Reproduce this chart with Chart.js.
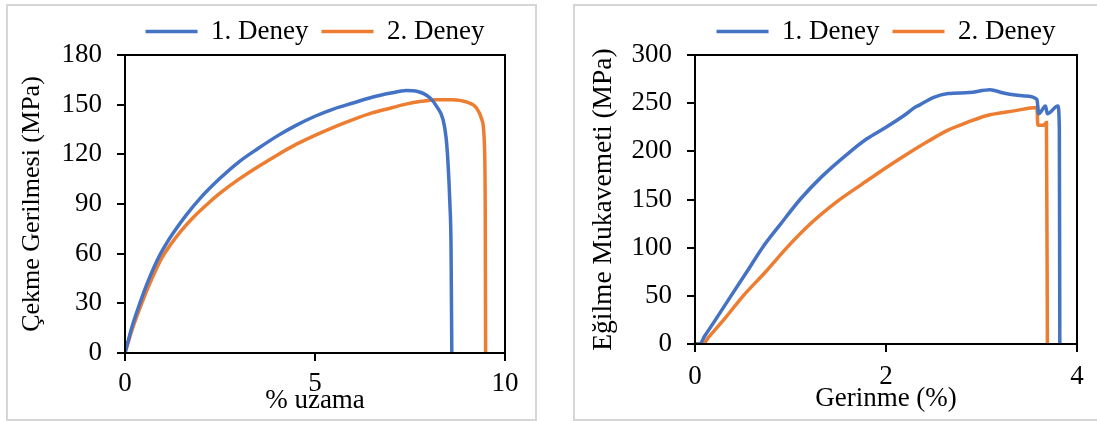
<!DOCTYPE html>
<html>
<head>
<meta charset="utf-8">
<script src="https://cdn.jsdelivr.net/npm/chart.js@4.4.0/dist/chart.umd.min.js"></script>
<style>
  html, body { margin: 0; padding: 0; background: #fff; width: 1097px; height: 421px; overflow: hidden; }
  .frame { position: absolute; border: 2px solid #d6d6d6; box-sizing: border-box; }
  #frameLeft { left: 6px; top: 4px; width: 531px; height: 417px; }
  #frameRight { left: 573px; top: 4px; width: 540px; height: 417px; }
  .box { position: absolute; top: 0; width: 550px; height: 421px; }
  #leftBox { left: 0; }
  #rightBox { left: 547px; }
</style>
</head>
<body>
<div class="frame" id="frameLeft"></div>
<div class="frame" id="frameRight"></div>
<div class="box" id="leftBox"><canvas id="tensileChart" width="550" height="421"></canvas></div>
<div class="box" id="rightBox"><canvas id="flexChart" width="550" height="421"></canvas></div>
<script>
const seriesLabels = ["1. Deney", "2. Deney"];
const seriesColors = ["#4472C4", "#ED7D31"];

// tensile test: strain (%) vs stress (MPa)
const tensileStrain1 = [0, 0.2, 0.39, 0.6, 0.89, 1.1, 1.3, 1.6, 2.0, 2.5, 3.0, 3.5, 4.0, 4.5, 5.0, 5.5, 6.0, 6.5, 7.0, 7.4, 7.7, 8.03, 8.2, 8.37, 8.45, 8.5, 8.55, 8.58, 8.6];
const tensileStress1 = [0, 17, 30, 43, 58, 66.5, 73.5, 83, 94, 105.5, 115.5, 123.5, 131, 137.5, 143, 147.5, 151, 154.5, 157, 158.5, 158, 154, 149, 141, 130, 115, 90, 64, 0];
const tensileStrain2 = [0, 0.2, 0.44, 0.7, 0.97, 1.2, 1.45, 1.8, 2.17, 2.5, 3.0, 3.5, 4.0, 4.5, 5.0, 5.5, 6.0, 6.5, 7.0, 7.42, 7.8, 8.2, 8.6, 9.0, 9.25, 9.39, 9.46, 9.48, 9.49];
const tensileStress2 = [0, 15, 30, 44.5, 57.5, 65.5, 73, 82, 90, 96.5, 105, 112.5, 119.5, 126, 131.5, 136.5, 141, 145, 148, 150.5, 152, 153, 153, 151.5, 148, 141, 125, 85, 0];

// flexural test: strain (%) vs strength (MPa)
const flexStrain1 = [0, 0.05, 0.1, 0.2, 0.377, 0.55, 0.706, 0.9, 1.1, 1.33, 1.63, 1.8, 2.0, 2.2, 2.3, 2.35, 2.5, 2.65, 2.87, 3.09, 3.23, 3.45, 3.58, 3.6, 3.67, 3.69, 3.8, 3.815, 3.82];
const flexStress1 = [0, 0, 8, 23, 50, 76, 100, 125, 150, 174, 200, 213, 225, 238, 245.5, 248, 256, 260, 261, 264, 260.5, 257.5, 254, 239, 247, 239, 247, 225, 0];
const flexStrain2 = [0, 0.08, 0.15, 0.3, 0.505, 0.75, 0.962, 1.2, 1.49, 1.75, 2.0, 2.21, 2.45, 2.65, 2.85, 3.05, 3.34, 3.58, 3.59, 3.65, 3.68, 3.69];
const flexStress2 = [0, 0, 8, 25, 50, 76, 100, 124, 148, 166, 183, 196.5, 211, 222, 230, 237, 242, 245.5, 227, 227, 230, 0];

const serif = '"Liberation Serif", "Times New Roman", serif';
const font = { family: serif, size: 27 };

function pts(xs, ys) {
  return xs.map(function (x, i) { return { x: x, y: ys[i] }; });
}

function makeDataset(i, xs, ys) {
  return {
    label: seriesLabels[i],
    data: pts(xs, ys),
    borderColor: seriesColors[i],
    backgroundColor: seriesColors[i],
    borderWidth: 3.5,
    pointRadius: 0,
    showLine: true,
    fill: false,
    cubicInterpolationMode: "monotone",
  };
}

const plotBorder = {
  id: "plotBorder",
  afterDraw(chart) {
    const a = chart.chartArea;
    const ctx = chart.ctx;
    ctx.save();
    ctx.strokeStyle = "#000";
    ctx.lineWidth = 2;
    ctx.strokeRect(a.left, a.top, a.right - a.left, a.bottom - a.top);
    ctx.restore();
  },
};

function makeChart(el, cfg) {
  return new Chart(document.getElementById(el), {
    type: "scatter",
    data: { datasets: cfg.datasets },
    options: {
      responsive: false,
      animation: false,
      layout: { padding: { top: 5, left: 0, right: cfg.padRight, bottom: 0 } },
      plugins: {
        tooltip: { enabled: false },
        legend: {
          position: "top",
          fullSize: false,
          align: "center",
          labels: {
            usePointStyle: true,
            pointStyle: "line",
            pointStyleWidth: 52,
            padding: 13,
            color: "#000",
            font: font,
          },
        },
      },
      scales: {
        x: {
          type: "linear",
          min: 0,
          max: cfg.xMax,
          border: { color: "#000", width: 2 },
          grid: { drawOnChartArea: false, drawTicks: true, tickLength: 8, color: "#000", lineWidth: 2 },
          ticks: { stepSize: cfg.xStep, color: "#000", font: font, padding: cfg.xTickPad, maxRotation: 0 },
          title: { display: true, text: cfg.xTitle, color: "#000", font: font, padding: { top: 0, bottom: cfg.xTitlePad } },
          afterFit: function (s) { s.height = cfg.xHeight; },
        },
        y: {
          min: 0,
          max: cfg.yMax,
          border: { color: "#000", width: 2 },
          grid: { drawOnChartArea: false, drawTicks: true, tickLength: 8, color: "#000", lineWidth: 2 },
          ticks: { stepSize: cfg.yStep, color: "#000", font: font, padding: 15 },
          title: { display: true, text: cfg.yTitle, color: "#000", font: { family: serif, size: cfg.yTitleSize }, padding: { top: cfg.yTitlePad, bottom: 0 } },
          afterFit: function (s) { s.width = cfg.yWidth; },
        },
      },
    },
    plugins: [plotBorder],
  });
}

makeChart("tensileChart", {
  datasets: [makeDataset(0, tensileStrain1, tensileStress1), makeDataset(1, tensileStrain2, tensileStress2)],
  xMax: 10, xStep: 5, yMax: 180, yStep: 30,
  xTitle: "% uzama", yTitle: "Çekme Gerilmesi (MPa)", yTitleSize: 26,
  padRight: 45, yWidth: 125, xHeight: 68,
  xTickPad: 7, xTitlePad: 4, yTitlePad: 17,
});

makeChart("flexChart", {
  datasets: [makeDataset(0, flexStrain1, flexStress1), makeDataset(1, flexStrain2, flexStress2)],
  xMax: 4, xStep: 2, yMax: 300, yStep: 50,
  xTitle: "Gerinme (%)", yTitle: "Eğilme Mukavemeti (MPa)", yTitleSize: 27.5,
  padRight: 20, yWidth: 148, xHeight: 77,
  xTickPad: 9, xTitlePad: 6, yTitlePad: 40,
});
</script>
</body>
</html>
